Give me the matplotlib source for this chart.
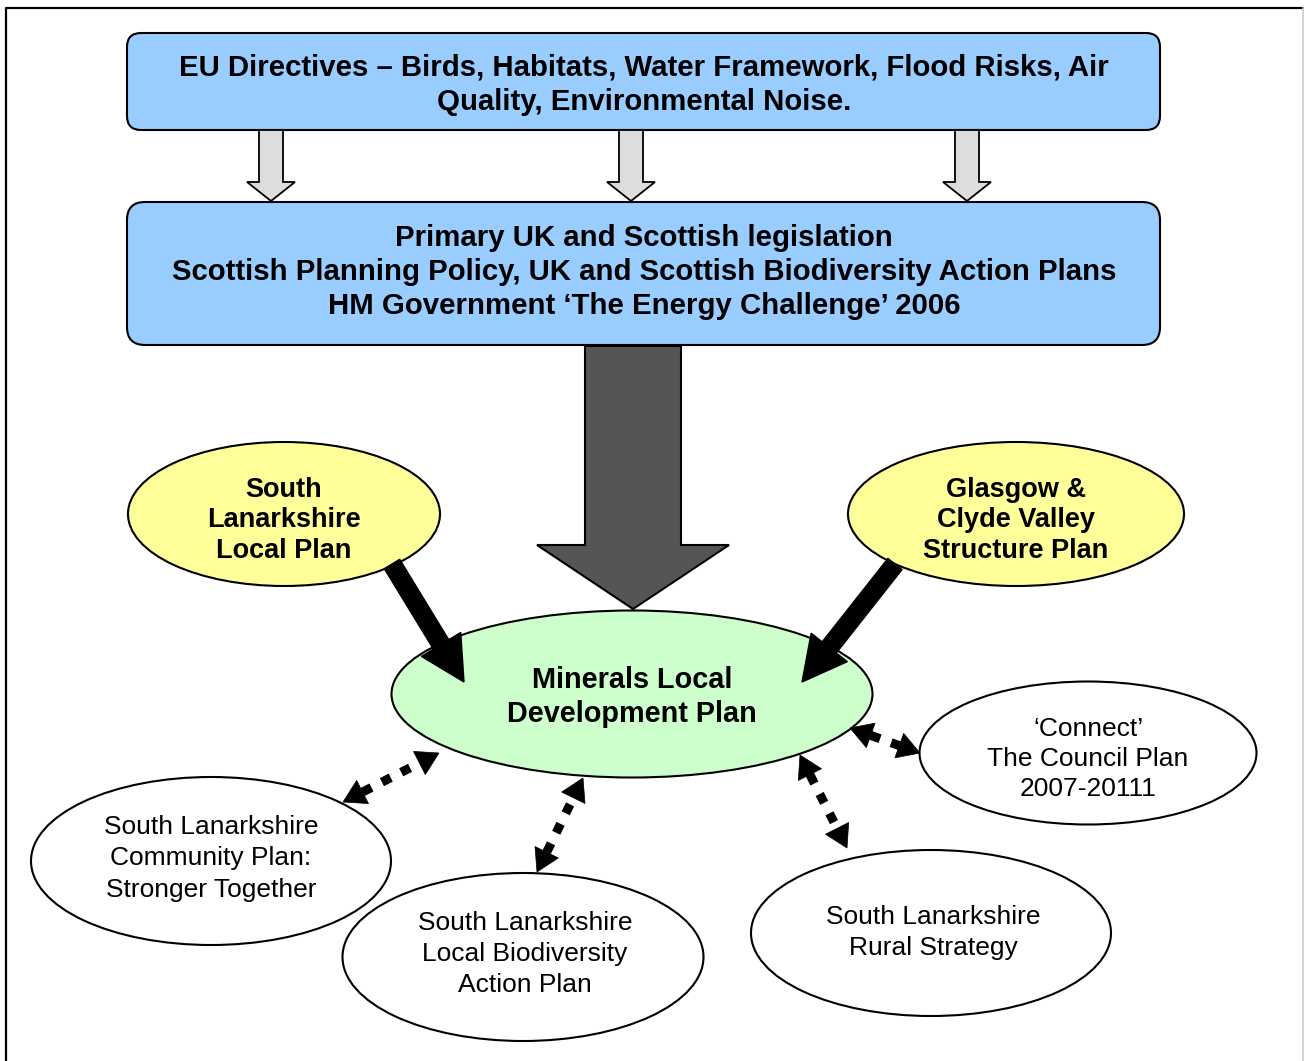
import matplotlib
matplotlib.use("Agg")
import matplotlib.pyplot as plt
import numpy as np
from matplotlib.patches import FancyBboxPatch, Ellipse, Polygon

plt.rcParams['font.family'] = ['Liberation Sans', 'DejaVu Sans']

# --- text content ---
top_lines = ["EU Directives \u2013 Birds, Habitats, Water Framework, Flood Risks, Air",
             "Quality, Environmental Noise."]
mid_lines = ["Primary UK and Scottish legislation",
             "Scottish Planning Policy, UK and Scottish Biodiversity Action Plans",
             "HM Government \u2018The Energy Challenge\u2019 2006"]
left_plan = ["South", "Lanarkshire", "Local Plan"]
right_plan = ["Glasgow &", "Clyde Valley", "Structure Plan"]
centre_plan = ["Minerals Local", "Development Plan"]
connect_plan = ["\u2018Connect\u2019", "The Council Plan", "2007-20111"]
community_plan = ["South Lanarkshire", "Community Plan:", "Stronger Together"]
biodiv_plan = ["South Lanarkshire", "Local Biodiversity", "Action Plan"]
rural_plan = ["South Lanarkshire", "Rural Strategy"]

# --- layout (pixel coordinates, y down) ---
W, H = 1304, 1061
fig = plt.figure(figsize=(W / 100, H / 100), dpi=100)
ax = fig.add_axes([0, 0, 1, 1])
ax.set_xlim(0, W)
ax.set_ylim(H, 0)
ax.axis('off')

BLUE = '#99CCFF'
YELLOW = '#FFFF99'
GREEN = '#CCFFCC'

# page frame
ax.plot([6, 6, 1303], [H, 8, 8], color='black', lw=1.6)
ax.plot([1303, 1303], [8, H], color='#cccccc', lw=1.2)


def write_lines(lines, cx, y_first, step, size, bold):
    px = size * 100 / 72
    for i, s in enumerate(lines):
        ax.text(cx, y_first + i * step + 0.36 * px, s, ha='center', va='baseline',
                fontsize=size, fontweight='bold' if bold else 'normal', zorder=10)


def block_arrow(x0, y0, x1, y1, shaft_w, head_w, head_l, fc, lw=1.5, z=5):
    p0 = np.array([x0, y0], float)
    p1 = np.array([x1, y1], float)
    d = (p1 - p0) / np.linalg.norm(p1 - p0)
    n = np.array([-d[1], d[0]])
    b = p1 - d * head_l
    pts = [p0 + n * shaft_w / 2, b + n * shaft_w / 2, b + n * head_w / 2, p1,
           b - n * head_w / 2, b - n * shaft_w / 2, p0 - n * shaft_w / 2]
    ax.add_patch(Polygon(pts, closed=True, fc=fc, ec='black', lw=lw, zorder=z,
                         joinstyle='miter'))


def dotted_link(x0, y0, x1, y1):
    p0 = np.array([x0, y0], float)
    p1 = np.array([x1, y1], float)
    d = (p1 - p0) / np.linalg.norm(p1 - p0)
    head_l = 22
    a = p0 + d * head_l
    b = p1 - d * head_l
    ax.plot([a[0], b[0]], [a[1], b[1]], color='black', lw=6.5,
            linestyle=(0, (1.1, 1.3)), solid_capstyle='butt', dash_capstyle='butt', zorder=6)
    n = np.array([-d[1], d[0]])
    for tip, dd in ((p0, -d), (p1, d)):
        base = tip - dd * head_l
        ax.add_patch(Polygon([tip, base + n * 13, base - n * 13], closed=True,
                             fc='black', ec='black', lw=0.5, zorder=6))


# blue boxes
ax.add_patch(FancyBboxPatch((127 + 14, 33 + 14), 1033 - 28, 97 - 28,
                            boxstyle='round,pad=14', fc=BLUE, ec='black', lw=1.5, zorder=2))
ax.add_patch(FancyBboxPatch((127 + 18, 202 + 18), 1033 - 36, 143 - 36,
                            boxstyle='round,pad=18', fc=BLUE, ec='black', lw=1.5, zorder=2))
write_lines(top_lines, 644, 65, 34, 21.2, True)
write_lines(mid_lines, 644, 235, 34, 21.2, True)

# small grey arrows between boxes
for cx in (271, 631, 967):
    block_arrow(cx, 130, cx, 201, 24, 48, 19, '#DDDDDD', lw=1.3, z=3)

# big dark arrow
block_arrow(633, 346, 633, 609, 96, 192, 64, '#555555', lw=1.5, z=3)

# ellipses
ells = [((284, 514), 312, 144, YELLOW), ((1016, 514), 336, 144, YELLOW),
        ((632, 694), 481, 167, GREEN), ((1088, 753), 337, 143, 'white'),
        ((211, 861), 360, 168, 'white'), ((523, 957), 361, 168, 'white'),
        ((931, 933), 360, 166, 'white')]
for c, w, h, fc in ells:
    ax.add_patch(Ellipse(c, w, h, fc=fc, ec='black', lw=1.5, zorder=4))

write_lines(left_plan, 284, 487, 30.5, 19.5, True)
write_lines(right_plan, 1016, 487, 30.5, 19.5, True)
write_lines(centre_plan, 632, 678, 34, 20.8, True)
write_lines(connect_plan, 1088, 726, 30.5, 19, False)
write_lines(community_plan, 211, 825, 31, 19, False)
write_lines(biodiv_plan, 525, 921, 31, 19, False)
write_lines(rural_plan, 933, 915, 31, 19, False)

# thick black arrows into the minerals plan
block_arrow(392, 564, 464, 682, 18, 46, 44, 'black', lw=1, z=7)
block_arrow(895, 564, 802, 682, 18, 46, 44, 'black', lw=1, z=7)

# dotted two-way links
dotted_link(343, 802, 439, 753)
dotted_link(537, 872, 583, 778)
dotted_link(850, 728, 920, 753)
dotted_link(800, 755, 847, 848)

fig.savefig('out.png', dpi=100)
